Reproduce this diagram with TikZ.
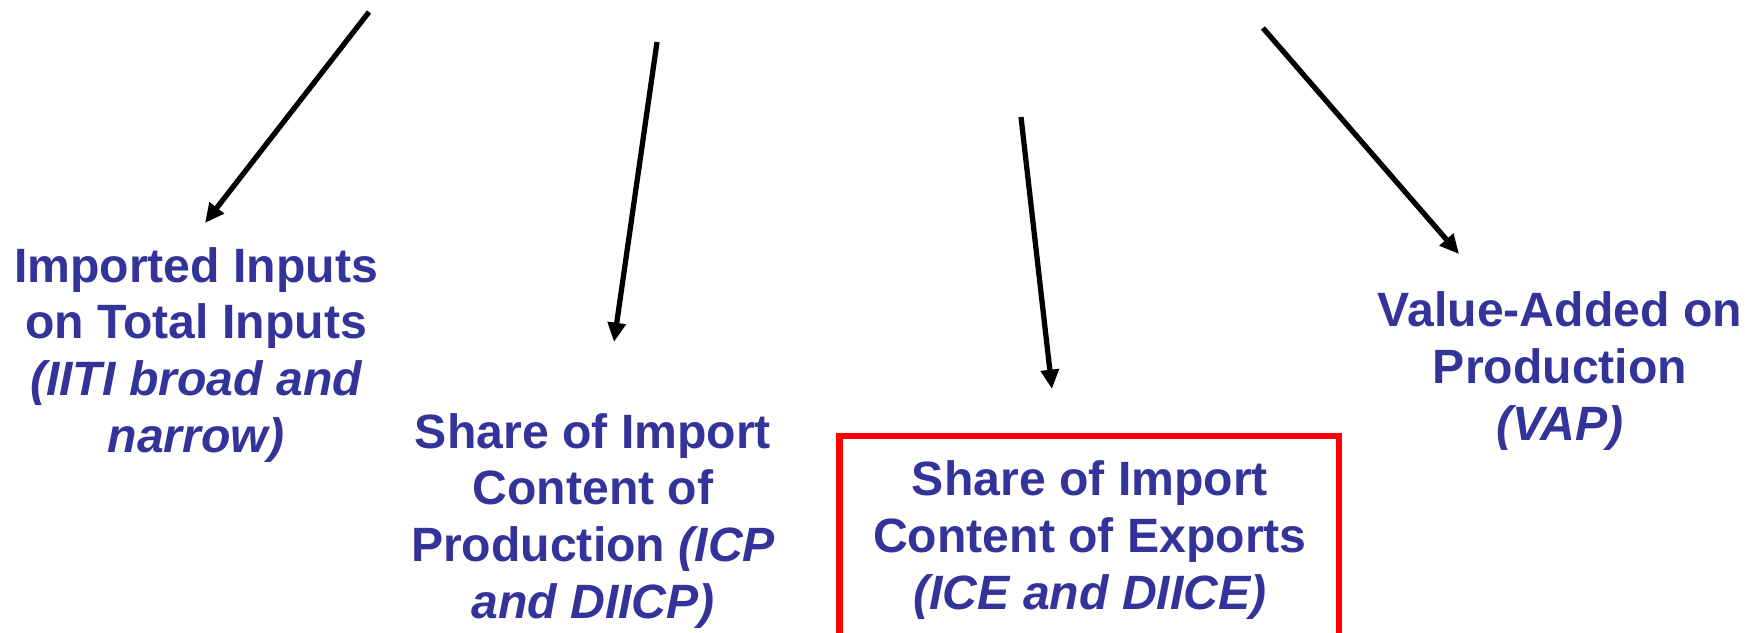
\documentclass[tikz,border=0pt]{standalone}
\usepackage{fontspec}
\setmainfont{Liberation Sans}
\usetikzlibrary{arrows.meta}
\definecolor{txtblue}{RGB}{51,51,153}
\begin{document}
\begin{tikzpicture}[x=0.01cm,y=-0.01cm,
  lbl/.style={text=txtblue,font=\fontsize{13.7pt}{16.2pt}\selectfont\bfseries,align=center,inner sep=0pt},
  arr/.style={line width=1.5pt,-{Triangle[length=5.5pt,width=5pt]}},
  redbox/.style={draw=red,line width=1.85pt}]
\useasboundingbox (0,0) rectangle (1753,632);
\node[lbl] (t1) at (196,355) {Imported Inputs\\on Total Inputs\\\itshape(IITI broad and\\\itshape narrow)};
\node[lbl] (t2) at (593,521) {Share of Import\\Content of\\Production \itshape(ICP\\\itshape and DIICP)};
\node[lbl] (t3) at (1090,540) {Share of Import\\Content of Exports\\\itshape(ICE and DIICE)};
\node[lbl] (t4) at (1560,371) {Value-Added on\\Production\\\itshape(VAP)};
\draw[redbox] (839.5,436) rectangle (1339,660);
\coordinate (s1) at (369,12);
\coordinate (e1) at (205,223);
\coordinate (s2) at (657,42);
\coordinate (e2) at (614,342);
\coordinate (s3) at (1021,117);
\coordinate (e3) at (1052,389);
\coordinate (s4) at (1263,28);
\coordinate (e4) at (1459,254);
\draw[arr] (s1) -- (e1);
\draw[arr] (s2) -- (e2);
\draw[arr] (s3) -- (e3);
\draw[arr] (s4) -- (e4);
\end{tikzpicture}
\end{document}
